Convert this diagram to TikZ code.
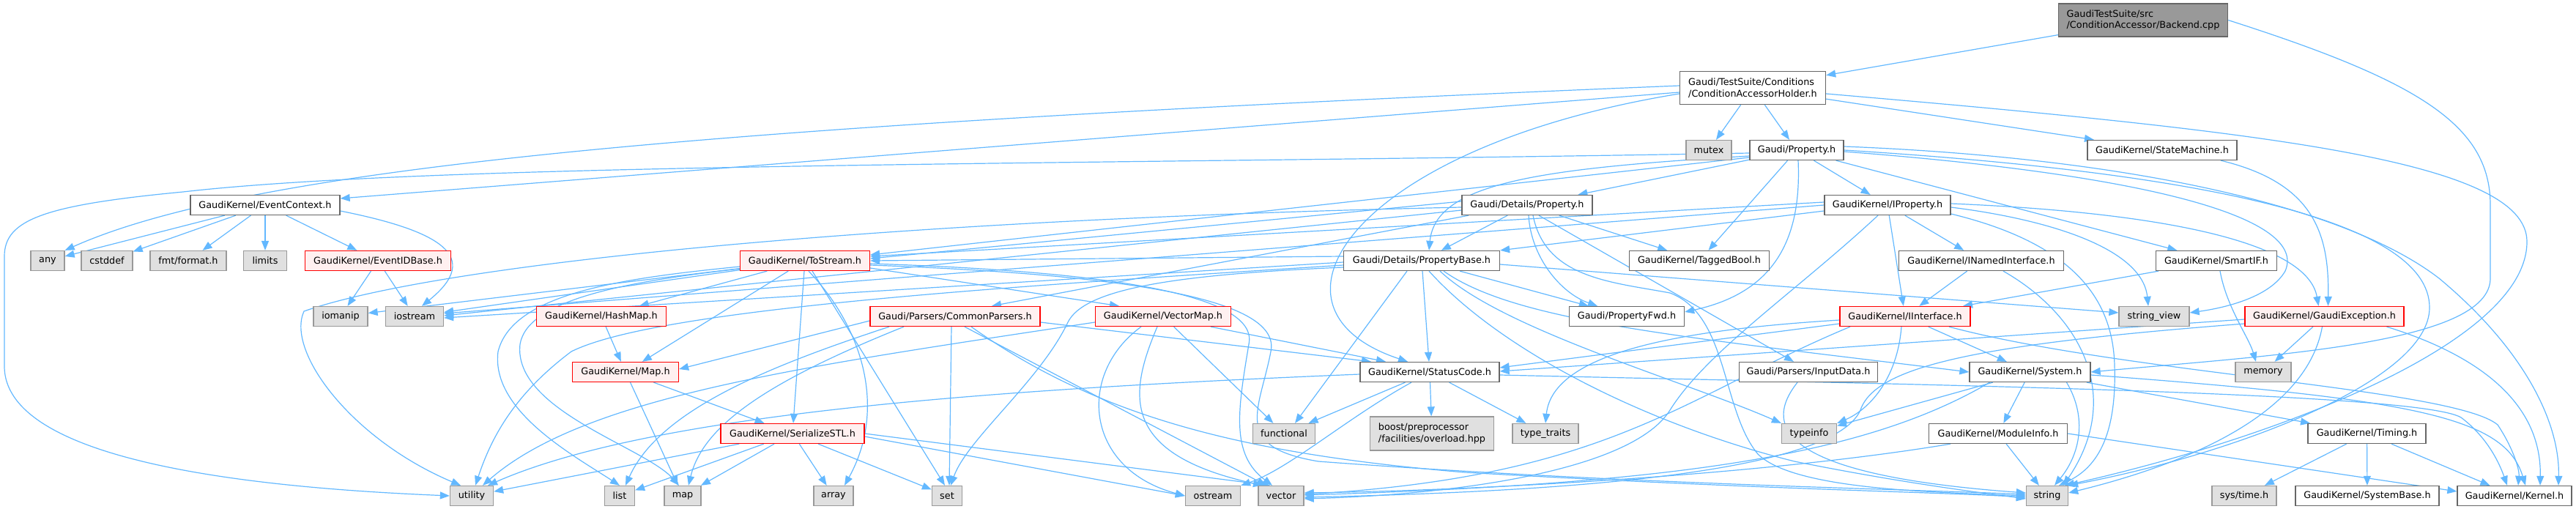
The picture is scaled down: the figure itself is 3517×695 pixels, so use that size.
\documentclass[tikz,border=0pt]{standalone}
\usepackage{fontspec}
\setmainfont{DejaVu Sans}
\usetikzlibrary{arrows.meta}
\definecolor{cA}{HTML}{666666}
\definecolor{cB}{HTML}{999999}
\definecolor{cG}{HTML}{E0E0E0}
\definecolor{cR}{HTML}{FFF0F0}
\definecolor{eblue}{HTML}{63B8FF}
\pgfdeclarelayer{bg}
\pgfsetlayers{bg,main}
\tikzset{
 box/.style={draw, line width=1.3pt, minimum height=27pt, inner sep=2pt, font=\fontsize{12.8}{15.5}\selectfont, align=left},
 wb/.style={box, draw=cA, fill=white},
 gb/.style={box, draw=cB, fill=cG},
 rb/.style={box, draw=red, fill=cR},
 tb/.style={box, draw=cA, fill=cB, minimum height=45pt},
 e/.style={draw=eblue, line width=1.2pt, -{Triangle[length=13pt,width=10pt]}},
}
\begin{document}
\begin{tikzpicture}[x=1pt,y=-1pt]
\useasboundingbox (0,0) rectangle (3517,695);
% nodes
\node[tb, minimum width=231pt] (top) at (2926,27.5) {GaudiTestSuite/src\\/ConditionAccessor/Backend.cpp};
\node[wb, minimum width=199pt, minimum height=45pt] (cah) at (2393,120) {Gaudi/TestSuite/Conditions\\/ConditionAccessorHolder.h};
\node[gb, minimum width=62pt] (mutex) at (2333,205) {mutex};
\node[wb, minimum width=128pt] (prop) at (2453,205) {Gaudi/Property.h};
\node[wb, minimum width=204pt] (statem) at (2952,205) {GaudiKernel/StateMachine.h};
\node[wb, minimum width=204pt] (evctx) at (362,280) {GaudiKernel/EventContext.h};
\node[wb, minimum width=178pt] (detprop) at (2085,280) {Gaudi/Details/Property.h};
\node[wb, minimum width=172pt] (iprop) at (2577,280) {GaudiKernel/IProperty.h};
\node[gb, minimum width=46pt] (any) at (65,356) {any};
\node[gb, minimum width=70pt] (cstddef) at (146,356) {cstddef};
\node[gb, minimum width=104pt] (fmt) at (257,356) {fmt/format.h};
\node[gb, minimum width=59pt] (limits) at (362,356) {limits};
\node[rb, minimum width=199pt] (evid) at (516,356) {GaudiKernel/EventIDBase.h};
\node[rb, minimum width=177pt] (tostream) at (1099,356) {GaudiKernel/ToStream.h};
\node[wb, minimum width=213pt] (propbase) at (1941,356) {Gaudi/Details/PropertyBase.h};
\node[wb, minimum width=191pt] (tagged) at (2320,356) {GaudiKernel/TaggedBool.h};
\node[wb, minimum width=225pt] (inamed) at (2705,356) {GaudiKernel/INamedInterface.h};
\node[wb, minimum width=165pt] (smartif) at (3026,356) {GaudiKernel/SmartIF.h};
\node[gb, minimum width=74pt] (iomanip) at (465,432) {iomanip};
\node[gb, minimum width=79pt] (iostream) at (566,432) {iostream};
\node[rb, minimum width=177pt] (hashmap) at (821,432) {GaudiKernel/HashMap.h};
\node[rb, minimum width=232pt] (cparsers) at (1304,432) {Gaudi/Parsers/CommonParsers.h};
\node[rb, minimum width=185pt] (vecmap) at (1588,432) {GaudiKernel/VectorMap.h};
\node[wb, minimum width=157pt] (propfwd) at (2221,432) {Gaudi/PropertyFwd.h};
\node[rb, minimum width=178pt] (iinterface) at (2601,432) {GaudiKernel/IInterface.h};
\node[gb, minimum width=96pt] (strview) at (2941,432) {string\_view};
\node[rb, minimum width=217pt] (gexc) at (3173.5,432) {GaudiKernel/GaudiException.h};
\node[rb, minimum width=145pt] (maph) at (854,508) {GaudiKernel/Map.h};
\node[wb, minimum width=190pt] (status) at (1952,508) {GaudiKernel/StatusCode.h};
\node[wb, minimum width=189pt] (inputdata) at (2469,508) {Gaudi/Parsers/InputData.h};
\node[wb, minimum width=165pt] (system) at (2771.5,508) {GaudiKernel/System.h};
\node[gb, minimum width=76pt] (memory) at (3090,508) {memory};
\node[rb, minimum width=196pt] (serial) at (1082,592) {GaudiKernel/SerializeSTL.h};
\node[gb, minimum width=85pt] (functional) at (1753,592) {functional};
\node[gb, minimum width=169pt, minimum height=46pt] (boost) at (1955,592) {boost/preprocessor\\/facilities/overload.hpp};
\node[gb, minimum width=90pt] (typetraits) at (2110,592) {type\_traits};
\node[gb, minimum width=75pt] (typeinfo) at (2470,592) {typeinfo};
\node[wb, minimum width=189pt] (modinfo) at (2728,592) {GaudiKernel/ModuleInfo.h};
\node[wb, minimum width=161pt] (timing) at (3231.5,592) {GaudiKernel/Timing.h};
\node[gb, minimum width=59pt] (utility) at (644,677) {utility};
\node[gb, minimum width=41pt] (list) at (846,677) {list};
\node[gb, minimum width=50pt] (map) at (932,677) {map};
\node[gb, minimum width=54pt] (array) at (1138,677) {array};
\node[gb, minimum width=41pt] (set) at (1293,677) {set};
\node[gb, minimum width=75pt] (ostream) at (1656,677) {ostream};
\node[gb, minimum width=62pt] (vector) at (1749,677) {vector};
\node[gb, minimum width=57pt] (string) at (2795,677) {string};
\node[gb, minimum width=88pt] (systime) at (3064,677) {sys/time.h};
\node[wb, minimum width=196pt] (sysbase) at (3232,677) {GaudiKernel/SystemBase.h};
\node[wb, minimum width=156pt] (kernel) at (3433,677) {GaudiKernel/Kernel.h};
% edges
\begin{pgfonlayer}{bg}
% top
\draw[e] (top) -- (cah);
\draw[e] (top.east) .. controls (3300,110) and (3400,170) .. (3400,280) -- (3400,380) .. controls (3400,470) and (3100,485) .. (system.east);
% cah
\draw[e] (cah) -- (mutex);
\draw[e] (cah) -- (prop);
\draw[e] (cah) -- (statem);
\draw[e] ([yshift=-6pt]cah.west) -- ([yshift=9pt]evctx.east);
\draw[e] ([yshift=3pt]cah.west) .. controls (1000,170) and (350,225) .. (any.north east);
\draw[e] ([yshift=-8pt]cah.west) .. controls (1850,200) and (1700,420) .. ([xshift=-30pt]status.north);
\draw[e] ([yshift=-8pt]cah.east) .. controls (3100,180) and (3450,220) .. (3450,330) .. controls (3450,470) and (3100,600) .. ([xshift=24pt]string.north);
% prop
\draw[e] (prop) -- (detprop);
\draw[e] ([yshift=-8pt]prop.west) .. controls (2100,230) and (1960,250) .. ([xshift=10pt]propbase.north);
\draw[e] ([xshift=2pt]prop.south) .. controls (2460,330) and (2420,400) .. ([yshift=6pt]propfwd.east);
\draw[e] (prop) -- (iprop);
\draw[e] (prop) -- (tagged);
\draw[e] (prop) -- (smartif);
\draw[e] ([yshift=-10pt]prop.west) -- ([yshift=8pt]tostream.east);
\draw[e] ([yshift=-4pt]prop.west) .. controls (1500,225) and (600,222) .. (250,262) .. controls (60,280) and (6,300) .. (6,350) -- (6,500) .. controls (6,640) and (400,668) .. (utility.west);
\draw[e] ([yshift=5pt]prop.east) .. controls (2900,215) and (3200,280) .. (3330,380) .. controls (3450,480) and (3495,580) .. ([xshift=60pt]kernel.north);
\draw[e] ([yshift=-2pt]prop.east) .. controls (2950,240) and (3150,300) .. (3120,370) .. controls (3100,405) and (3040,420) .. ([yshift=5pt]strview.east);
\draw[e] (prop.east) .. controls (3000,235) and (3317,300) .. (3317,420) .. controls (3317,520) and (3050,620) .. (string.north east);
% statem
\draw[e] ([xshift=80pt]statem.south) .. controls (3160,250) and (3180,320) .. ([xshift=5pt]gexc.north);
% iprop
\draw[e] (iprop) -- (iinterface);
\draw[e] (iprop) -- (inamed);
\draw[e] ([yshift=2pt]iprop.east) .. controls (2950,290) and (3150,330) .. ([xshift=-8pt]gexc.north);
\draw[e] ([yshift=-3pt]iprop.east) .. controls (2800,300) and (2925,340) .. ([xshift=-8pt]strview.north);
\draw[e] ([yshift=-12pt]iprop.east) .. controls (2820,330) and (2885,400) .. (2887,500) .. controls (2890,600) and (2860,640) .. ([xshift=16pt]string.north);
\draw[e] ([yshift=4pt]iprop.west) -- ([yshift=6pt]tostream.east);
\draw[e] ([yshift=-8pt]iprop.west) -- (propbase.north east);
\draw[e] (iprop.west) -- ([yshift=4pt]iostream.east);
\draw[e] ([xshift=-13pt]iprop.south) .. controls (2450,400) and (2330,480) .. (2280,560) .. controls (2230,640) and (2000,675) .. ([yshift=-4pt]vector.east);
% detprop
\draw[e] (detprop) -- (propbase);
\draw[e] (detprop) -- (tagged);
\draw[e] ([xshift=2pt]detprop.south) .. controls (2090,350) and (2130,400) .. ([xshift=-40pt]propfwd.north);
\draw[e] ([xshift=16pt]detprop.south) -- ([xshift=-20pt]inputdata.north);
\draw[e] ([xshift=8pt]detprop.south) .. controls (2110,380) and (2200,385) .. (2280,400) .. controls (2360,430) and (2350,560) .. (2400,620) .. controls (2450,670) and (2650,672) .. (string.west);
\draw[e] ([xshift=-80pt]detprop.south) -- ([xshift=50pt]cparsers.north);
\draw[e] ([yshift=5pt]detprop.west) -- ([yshift=3pt]tostream.east);
\draw[e] ([yshift=-3pt]detprop.west) .. controls (1200,300) and (600,360) .. (415,425) .. controls (390,480) and (480,600) .. ([xshift=-15pt]utility.north);
\draw[e] ([yshift=-7pt]detprop.west) -- ([yshift=1pt]iostream.east);
% propbase
\draw[e] (propbase) -- (propfwd);
\draw[e] (propbase) -- (status);
\draw[e] ([xshift=-20pt]propbase.south) -- ([xshift=15pt]functional.north);
\draw[e] ([yshift=-5pt]propbase.east) -- ([yshift=5pt]strview.west);
\draw[e] ([xshift=30pt]propbase.south) .. controls (2070,440) and (2300,460) .. (system.west);
\draw[e] ([xshift=25pt]propbase.south) .. controls (2050,450) and (2300,520) .. (typeinfo.north west);
\draw[e] ([xshift=10pt]propbase.south) .. controls (2050,480) and (2250,580) .. (2450,630) .. controls (2600,660) and (2700,672) .. ([yshift=-4pt]string.west);
\draw[e] ([yshift=6pt]propbase.west) -- (tostream.east);
\draw[e] ([yshift=-2pt]propbase.west) -- ([yshift=-2pt]iostream.east);
\draw[e] ([yshift=-6pt]propbase.west) .. controls (1400,390) and (900,420) .. (780,480) .. controls (700,540) and (670,600) .. ([xshift=5pt]utility.north);
\draw[e] ([yshift=-9pt]propbase.west) .. controls (1600,375) and (1480,395) .. (1458,440) .. controls (1420,520) and (1320,600) .. ([xshift=5pt]set.north);
% tostream
\draw[e] (tostream) -- (iomanip);
\draw[e] (tostream) -- (iostream);
\draw[e] (tostream) -- (hashmap);
\draw[e] (tostream) -- (maph);
\draw[e] (tostream) -- (serial);
\draw[e] ([yshift=-8pt]tostream.west) .. controls (850,380) and (700,400) .. (680,480) .. controls (670,560) and (780,620) .. (list.north);
\draw[e] ([yshift=-11pt]tostream.west) .. controls (850,385) and (720,410) .. (710,470) .. controls (700,560) and (880,610) .. ([xshift=-5pt]map.north);
\draw[e] ([xshift=5pt]tostream.south) .. controls (1180,450) and (1210,560) .. ([xshift=15pt]array.north);
\draw[e] ([xshift=10pt]tostream.south) -- ([xshift=-3pt]set.north);
\draw[e] ([yshift=-10pt]tostream.east) -- ([xshift=-60pt]vecmap.north);
\draw[e] ([yshift=-4pt]tostream.east) .. controls (1500,370) and (1720,400) .. (1705,470) .. controls (1690,560) and (1680,620) .. ([xshift=-12pt]vector.north);
\draw[e] ([yshift=-6pt]tostream.east) .. controls (1550,375) and (1750,410) .. (1735,480) .. controls (1720,560) and (1680,610) .. (1800,630) .. controls (2200,660) and (2600,668) .. ([yshift=2pt]string.west);
% evctx
\draw[e] (evctx) -- (any);
\draw[e] (evctx) -- (cstddef);
\draw[e] (evctx) -- (fmt);
\draw[e] (evctx) -- (limits);
\draw[e] (evctx) -- (evid);
\draw[e] ([yshift=-8pt]evctx.east) .. controls (600,315) and (660,350) .. ([xshift=10pt]iostream.north);
% evid
\draw[e] (evid) -- (iomanip);
\draw[e] (evid) -- (iostream);
% hashmap, map
\draw[e] (hashmap) -- (maph);
\draw[e] (maph) -- (map);
\draw[e] (maph) -- (serial);
% serial
\draw[e] (serial) -- (utility);
\draw[e] (serial) -- (list);
\draw[e] (serial) -- (map);
\draw[e] (serial) -- (array);
\draw[e] (serial) -- (set);
\draw[e] ([yshift=-4pt]serial.east) -- (ostream.west);
\draw[e] (serial.east) -- ([xshift=-15pt]vector.north);
% cparsers
\draw[e] ([yshift=-6pt]cparsers.west) -- ([yshift=4pt]maph.east);
\draw[e] ([xshift=-90pt]cparsers.south) .. controls (1050,500) and (900,560) .. ([xshift=8pt]list.north);
\draw[e] ([xshift=-70pt]cparsers.south) .. controls (1050,520) and (960,580) .. ([xshift=8pt]map.north);
\draw[e] ([xshift=-5pt]cparsers.south) -- ([xshift=3pt]set.north);
\draw[e] ([xshift=13pt]cparsers.south) -- ([xshift=-20pt]vector.north);
\draw[e] ([xshift=22pt]cparsers.south) .. controls (1500,570) and (1700,620) .. (2000,645) .. controls (2400,668) and (2650,672) .. ([yshift=-2pt]string.west);
\draw[e] ([yshift=-8pt]cparsers.east) -- ([xshift=-80pt]status.north);
% vecmap
\draw[e] ([yshift=-8pt]vecmap.west) .. controls (1100,500) and (800,540) .. ([xshift=15pt]utility.north);
\draw[e] ([xshift=-30pt]vecmap.south) .. controls (1470,510) and (1480,640) .. (ostream.west);
\draw[e] ([xshift=-8pt]vecmap.south) .. controls (1540,540) and (1530,620) .. ([xshift=-25pt]vector.north);
\draw[e] (vecmap) -- (functional);
\draw[e] ([xshift=65pt]vecmap.south) -- ([xshift=-60pt]status.north);
% status
\draw[e] (status) -- (functional);
\draw[e] (status) -- (boost);
\draw[e] (status) -- (typetraits);
\draw[e] ([xshift=-25pt]status.south) .. controls (1840,570) and (1760,640) .. (ostream.north east);
\draw[e] ([yshift=-3pt]status.west) .. controls (1400,530) and (900,560) .. ([xshift=22pt]utility.north);
\draw[e] ([yshift=-4pt]status.east) .. controls (2600,525) and (3300,535) .. (3360,570) .. controls (3400,600) and (3415,640) .. ([xshift=-10pt]kernel.north);
% iinterface
\draw[e] ([yshift=-10pt]iinterface.west) -- ([yshift=6pt]status.east);
\draw[e] ([yshift=-5pt]iinterface.west) .. controls (2300,450) and (2120,480) .. (typetraits.north);
\draw[e] ([xshift=-5pt]iinterface.south) .. controls (2590,520) and (2550,560) .. (typeinfo.north east);
\draw[e] (iinterface) -- (system);
\draw[e] ([xshift=60pt]iinterface.south) .. controls (2900,510) and (3350,530) .. (3410,580) .. controls (3430,610) and (3440,640) .. ([xshift=5pt]kernel.north);
\draw[e] ([xshift=-75pt]iinterface.south) .. controls (2300,540) and (2200,650) .. ([yshift=2pt]vector.east);
% gexc
\draw[e] ([yshift=-4pt]gexc.west) -- ([yshift=1pt]status.east);
\draw[e] (gexc) -- (memory);
\draw[e] ([xshift=-3pt]gexc.south) .. controls (3150,560) and (3000,630) .. ([yshift=4pt]string.east);
\draw[e] ([xshift=85pt]gexc.south) .. controls (3400,490) and (3470,560) .. ([xshift=35pt]kernel.north);
\draw[e] ([yshift=-10pt]gexc.west) .. controls (2700,470) and (2560,500) .. (2540,560) .. controls (2500,650) and (2100,672) .. ([yshift=-2pt]vector.east);
% smartif, inamed
\draw[e] (smartif) -- (iinterface);
\draw[e] ([xshift=5pt]smartif.south) .. controls (3040,420) and (3070,460) .. ([xshift=-10pt]memory.north);
\draw[e] (inamed) -- (iinterface);
\draw[e] ([xshift=30pt]inamed.south) .. controls (2840,430) and (2900,540) .. ([xshift=22pt]string.north);
% inputdata
\draw[e] ([xshift=-15pt]inputdata.south) .. controls (2400,590) and (2450,650) .. ([yshift=4pt]string.west);
% system
\draw[e] ([yshift=-4pt]system.east) .. controls (3300,545) and (3420,570) .. ([xshift=15pt]kernel.north);
\draw[e] ([xshift=50pt]system.south) .. controls (2850,570) and (2840,620) .. ([xshift=10pt]string.north);
\draw[e] (system) -- (typeinfo);
\draw[e] (system) -- (modinfo);
\draw[e] (system) -- (timing);
\draw[e] ([xshift=-55pt]system.south) .. controls (2550,620) and (2300,660) .. ([yshift=1pt]vector.east);
% modinfo
\draw[e] (modinfo.east) -- ([yshift=6pt]kernel.west);
\draw[e] (modinfo) -- (string);
\draw[e] ([xshift=-65pt]modinfo.south) .. controls (2400,650) and (2000,670) .. ([yshift=4pt]vector.east);
% timing
\draw[e] (timing) -- (systime);
\draw[e] (timing) -- (sysbase);
\draw[e] (timing) -- (kernel);
\end{pgfonlayer}
\end{tikzpicture}
\end{document}
